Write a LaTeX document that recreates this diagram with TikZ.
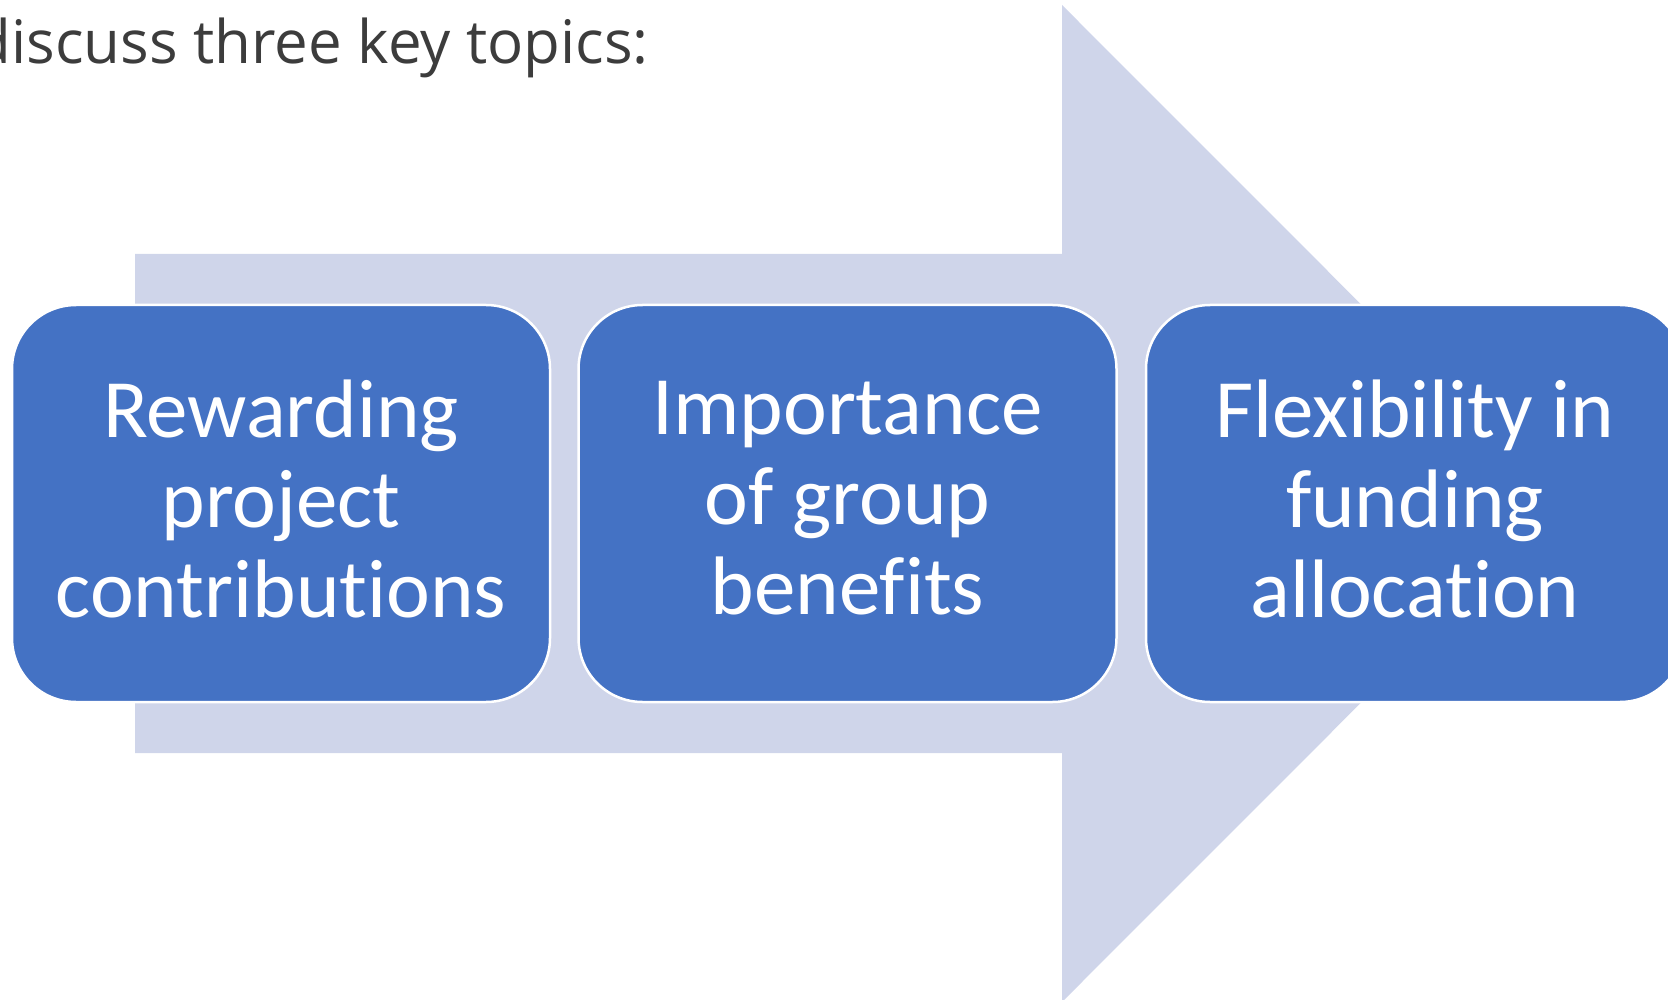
\documentclass[tikz,border=0pt]{standalone}
\usepackage{fontspec}
\setmainfont{Carlito}[Ligatures={NoCommon}]
\newfontfamily\topfont{Open Sans}
\definecolor{arrowfill}{HTML}{CFD5EA}
\definecolor{boxfill}{HTML}{4472C4}
\definecolor{toptext}{HTML}{3C3C3C}
\begin{document}
\begin{tikzpicture}[x=1pt,y=-1pt,
  topic/.style={rectangle, rounded corners=64pt, fill=boxfill, draw=white, line width=2.5pt,
    minimum width=538pt, minimum height=397pt, inner sep=0pt},
  topictext/.style={inner sep=0pt, text=white, align=center,
    font=\fontsize{83}{90}\selectfont}]
\useasboundingbox (0,0) rectangle (1668,1000);
\clip (0,0) rectangle (1668,1000);
\fill[arrowfill] (135,254) -- (1062,254) -- (1062,5) -- (1560,503.5) -- (1062,1002) -- (1062,753) -- (135,753) -- cycle;
\node[topic] (b1) at (281,503.5) {};
\node[topic] (b2) at (847.5,503.5) {};
\node[topic] (b3) at (1415,503.5) {};
\node[topictext] (t1) at ([yshift=5pt]b1.center) {Rewarding\\project\\contributions};
\node[topictext] (t2) at ([yshift=5pt]b2.center) {Importance\\of group\\benefits};
\node[topictext] (t3) at ([yshift=5pt]b3.center) {Flexibility in\\funding\\allocation};
\node[anchor=base east, inner sep=0pt, text=toptext, font=\topfont\fontsize{60}{72}\selectfont] (title) at (649,64) {discuss three key topics:};
\end{tikzpicture}
\end{document}
